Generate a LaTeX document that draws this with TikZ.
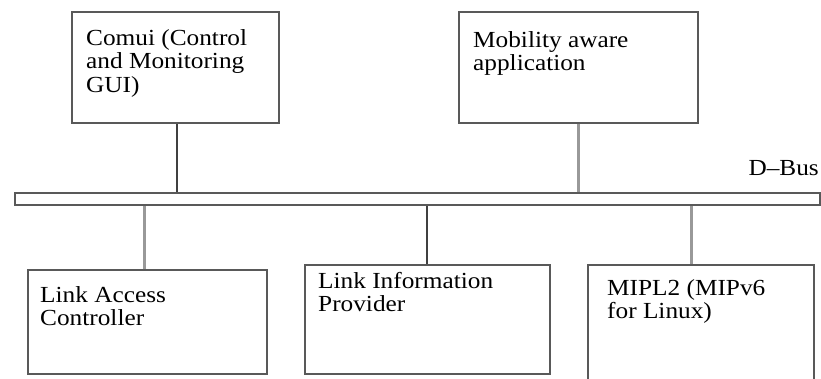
\documentclass[tikz,border=0pt]{standalone}
\usepackage{fontspec}
\setmainfont[FakeStretch=1.1]{Liberation Serif}
\usepackage{tikz}
\usetikzlibrary{positioning}
\tikzstyle{module}=[draw=black!65,line width=1.9pt,rectangle,inner sep=0pt,anchor=north west]
\tikzstyle{caption}=[anchor=base west,inner sep=0pt,align=left,font=\fontsize{23}{23.5}\selectfont]
\tikzstyle{link}=[draw=black!75,line width=1.7pt]
\tikzstyle{palelink}=[draw=black!40,line width=3pt]

\begin{document}
\begin{tikzpicture}[x=1pt,y=-1pt]

    \clip (0,0) rectangle (821,378);
    \useasboundingbox (0,0) rectangle (821,378);

    % the boxes, given by top left corner and size
    \foreach \x/\y/\w/\h/\name in {71/11/207/111/comui, 458/11/239/111/mobapp,
                                   27/269/239/104/lac, 304/264/245/109/lip, 587/264/226/130/mipl}
        \node[module, minimum width=\w pt, minimum height=\h pt] (\name) at (\x,\y) {};

    % the bus
    \node[module, minimum width=805pt, minimum height=12pt] (bus) at (14,192) {};
    \node[caption, anchor=base east] (busname) at (819,175) {D--Bus};

    % texts (base = last line)
    \node[caption] (comuitext) at ([xshift=15pt,yshift=-81pt]comui.north west) {Comui (Control\\and Monitoring\\GUI)};
    \node[caption] (mobapptext) at ([xshift=15pt,yshift=-59.5pt]mobapp.north west) {Mobility aware\\application};
    \node[caption] (lactext) at ([xshift=13pt,yshift=-56.5pt]lac.north west) {Link Access\\Controller};
    \node[caption] (liptext) at ([xshift=14pt,yshift=-47.5pt]lip.north west) {Link Information\\Provider};
    \node[caption] (mipltext) at ([xshift=20pt,yshift=-54.5pt]mipl.north west) {MIPL2 (MIPv6\\for Linux)};

    % attachments to the bus
    \draw[link] ([xshift=1.5pt]comui.south) -- ([xshift=1.5pt]comui.south |- bus.north);
    \draw[palelink] (mobapp.south) -- (mobapp.south |- bus.north);
    \draw[palelink] ([xshift=-3pt]lac.north) -- ([xshift=-3pt]lac.north |- bus.south);
    \draw[link] ([xshift=-0.5pt]lip.north) -- ([xshift=-0.5pt]lip.north |- bus.south);
    \draw[palelink] ([xshift=-9pt]mipl.north) -- ([xshift=-9pt]mipl.north |- bus.south);

\end{tikzpicture}
\end{document}
